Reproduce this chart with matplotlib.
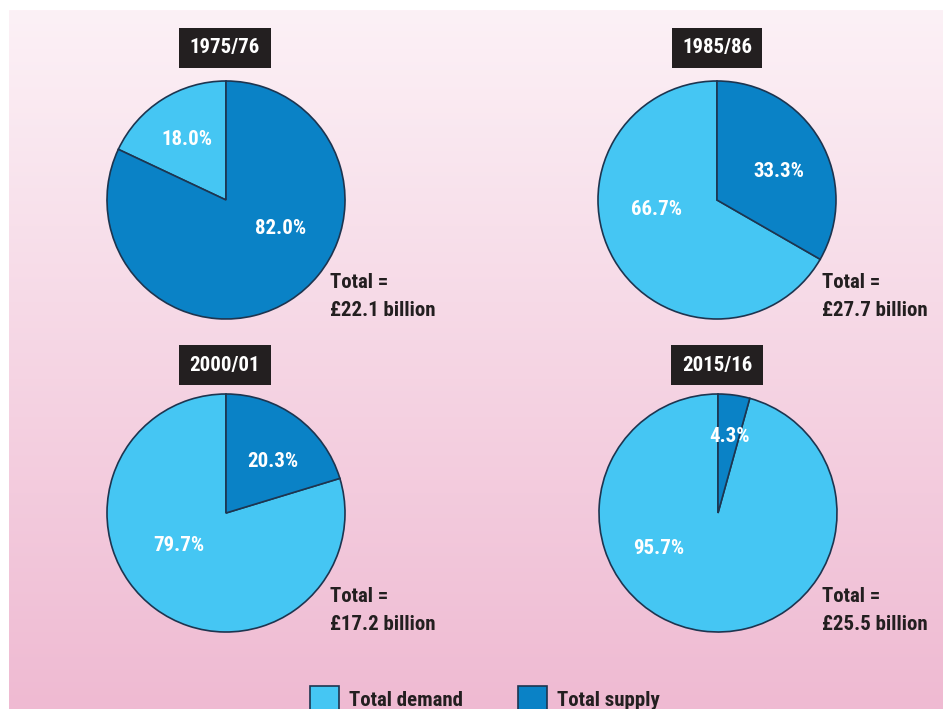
import matplotlib
matplotlib.use("Agg")
import matplotlib.pyplot as plt
import numpy as np
from matplotlib.patches import Patch

years = ["1975/76", "1985/86", "2000/01", "2015/16"]
demand = [18.0, 66.7, 79.7, 95.7]
supply = [82.0, 33.3, 20.3, 4.3]
totals = ["£22.1 billion", "£27.7 billion", "£17.2 billion", "£25.5 billion"]
series_names = ["Total demand", "Total supply"]

C_DEM = "#45c6f3"
C_SUP = "#0a82c6"
EDGE = "#1d3550"
DARK = "#231f20"

W, H = 943, 709
plt.rcParams['font.family'] = ['Liberation Sans Narrow', 'Roboto Condensed', 'DejaVu Sans']
plt.rcParams['font.stretch'] = 'condensed'
FS = 15
fig = plt.figure(figsize=(W / 100, H / 100), dpi=100)
ax = fig.add_axes([0, 0, 1, 1])

# background gradient panel
top = np.array(matplotlib.colors.to_rgb("#fcf1f6"))
bot = np.array(matplotlib.colors.to_rgb("#efbad2"))
t = np.linspace(0, 1, 256)[:, None]
grad = (top[None, :] * (1 - t) + bot[None, :] * t)[:, None, :]
ax.imshow(grad, extent=(9, W, 0, H - 10), aspect='auto', origin='upper', zorder=0)

centers = [(226, 200), (717, 200), (226, 513), (718, 513)]
radius = 119
title_centers = [(225, 48), (717, 48), (225, 365), (717, 365)]
label_off = [((-0.33, 0.51), (0.46, -0.24)),
             ((-0.51, -0.08), (0.52, 0.24)),
             ((-0.40, -0.27), (0.39, 0.43)),
             ((-0.50, -0.30), (0.10, 0.64))]
total_pos = [(330, 283), (822, 283), (330, 597), (822, 597)]

for i in range(4):
    cx, cy = centers[i]
    cyy = H - cy
    ax.pie([demand[i], supply[i]], colors=[C_DEM, C_SUP],
           startangle=90, counterclock=True,
           center=(cx, cyy), radius=radius, frame=True,
           wedgeprops=dict(edgecolor=EDGE, linewidth=1.2))
    for v, (ox, oy) in zip([demand[i], supply[i]], label_off[i]):
        ax.text(cx + ox * radius, cyy + oy * radius, f"{v:.1f}%",
                ha='center', va='center', color='white', fontsize=FS,
                fontweight='bold', zorder=5)
    tx, ty = title_centers[i]
    ax.text(tx, H - ty, years[i], ha='center', va='center', color='white',
            fontsize=FS, fontweight='bold', zorder=6,
            bbox=dict(boxstyle='square,pad=0.5', facecolor=DARK, edgecolor='none'))
    px, py = total_pos[i]
    ax.text(px, H - py, "Total =", ha='left', va='center', color=DARK,
            fontsize=FS, fontweight='bold')
    ax.text(px, H - py - 28, totals[i], ha='left', va='center', color=DARK,
            fontsize=FS, fontweight='bold')

ax.set_xlim(0, W)
ax.set_ylim(0, H)
ax.axis('off')

handles = [Patch(facecolor=C_DEM, edgecolor=EDGE, linewidth=1.2),
           Patch(facecolor=C_SUP, edgecolor=EDGE, linewidth=1.2)]
fig.legend(handles, series_names, loc='upper left',
           bbox_to_anchor=(291 / W, 1 - 667 / H), ncol=2, frameon=False,
           prop=dict(size=FS, weight='bold'), handlelength=1.4, handleheight=1.6,
           handletextpad=0.5, columnspacing=2.6, labelcolor=DARK)

fig.savefig("out.png", dpi=100)
